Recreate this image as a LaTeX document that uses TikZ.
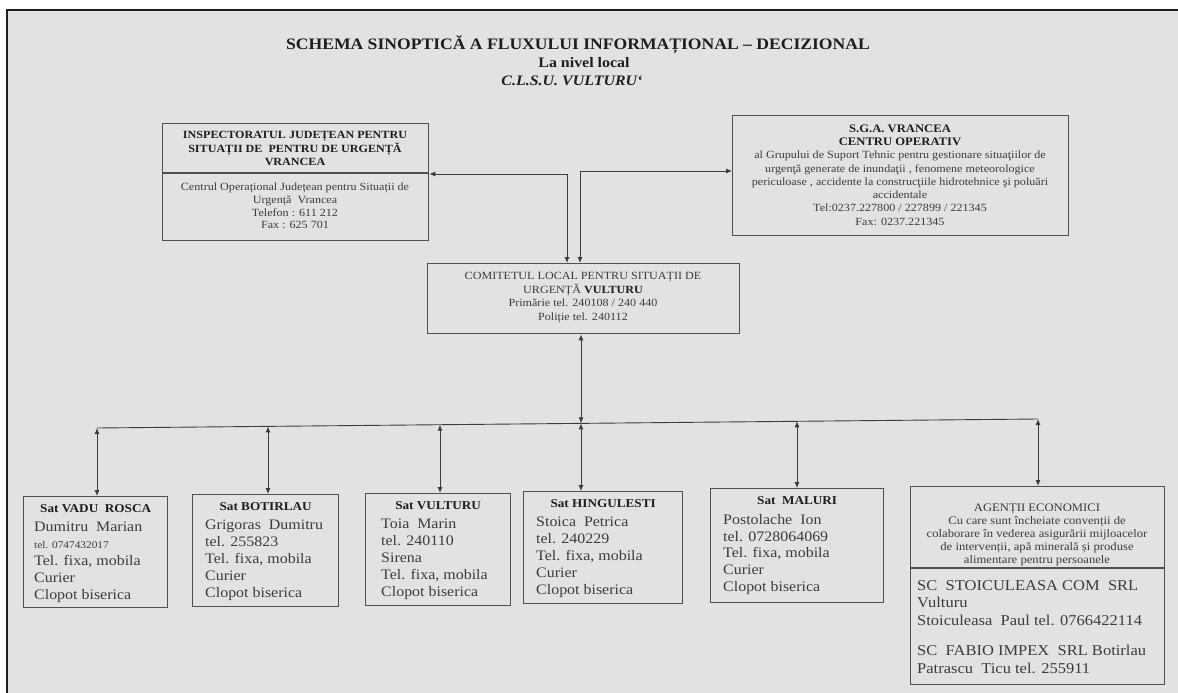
\documentclass[tikz,border=0pt]{standalone}
\usepackage{fontspec}
\setmainfont[FakeStretch=1.1]{Liberation Serif}
\usetikzlibrary{arrows.meta}
\definecolor{bg}{RGB}{226,226,226}
\definecolor{ink}{RGB}{30,30,30}
\definecolor{soft}{RGB}{60,60,60}
\definecolor{edge}{RGB}{80,80,80}
\begin{document}
\begin{tikzpicture}[x=1pt,y=-1pt,
  boxln/.style={draw=edge, line width=1.3pt},
  bx/.style={boxln, inner sep=0pt, anchor=north west},
  conn/.style={draw=soft, line width=0.9pt},
  darw/.style={{Latex[length=6pt,width=5pt]}-{Latex[length=6pt,width=5pt]}},
  txt/.style={inner sep=0pt, text=soft},
  ttl/.style={inner sep=0pt, text=ink, font=\bfseries\fontsize{16}{18}\selectfont},
  vtitle/.style={txt, anchor=north, text=ink, font=\bfseries\fontsize{12}{14}\selectfont},
  vbody/.style={txt, anchor=north west, align=left, font=\fontsize{14.5}{16.8}\selectfont},
]
\useasboundingbox (0,0) rectangle (1178,693);
\fill[white] (0,0) rectangle (1178,693);
\fill[bg] (7,10) rectangle (1178,693);
\draw[line width=2pt, ink] (7,693) -- (7,10) -- (1178,10);

% titles
\node[ttl] (t1) at (578,45) {SCHEMA SINOPTICĂ A FLUXULUI INFORMAȚIONAL – DECIZIONAL};
\node[ttl, font=\bfseries\fontsize{14.5}{16}\selectfont] (t2) at (584,63) {La nivel local};
\node[ttl, font=\bfseries\itshape\fontsize{14.5}{16}\selectfont] (t3) at (572,81) {C.L.S.U. VULTURU{\char"0060}};

% ISJ box
\node[bx, minimum width=266pt, minimum height=117pt] (isj) at (162,123) {};
\draw[boxln] (162,173) -- (428,173);
\node[txt, text=ink, align=center, font=\bfseries\fontsize{11}{13.5}\selectfont] (isjh) at (295,148.5)
  {INSPECTORATUL JUDEȚEAN PENTRU\\SITUAȚII DE\ \ PENTRU DE URGENȚĂ\\VRANCEA};
\node[txt, align=center, font=\fontsize{11}{12.8}\selectfont] (isjb) at (295,206)
  {Centrul Operațional Județean pentru Situații de\\Urgență\ \ Vrancea\\Telefon : 611 212\\Fax : 625 701};

% SGA box
\node[bx, minimum width=336pt, minimum height=120pt] (sga) at (732,115) {};
\node[txt, align=center, font=\fontsize{11}{13.3}\selectfont] (sgat) at (900,175)
  {\textcolor{ink}{\bfseries\fontsize{11.5}{13.3}\selectfont S.G.A. VRANCEA}\\
   \textcolor{ink}{\bfseries\fontsize{11.5}{13.3}\selectfont CENTRU OPERATIV}\\
   al Grupului de Suport Tehnic pentru gestionare situaţiilor de\\
   urgenţă generate de inundaţii , fenomene meteorologice\\
   periculoase , accidente la construcţiile hidrotehnice şi poluări\\
   accidentale\\
   Tel:0237.227800 / 227899 / 221345\\
   Fax: 0237.221345};

% CLSU box
\node[bx, minimum width=312pt, minimum height=70pt] (clsu) at (427,263) {};
\node[txt, align=center, font=\fontsize{11}{13.5}\selectfont] (clsut) at (583,297.5)
  {COMITETUL LOCAL PENTRU SITUAȚII DE\\URGENȚĂ \textcolor{ink}{\bfseries VULTURU}\\Primărie tel. 240108 / 240 440\\Poliție tel. 240112};

% top connectors
\coordinate (jl) at (567,174);
\coordinate (jr) at (580,171);
\draw[conn, darw] (isj.east |- jl) -- (jl) -- (jl |- clsu.north);
\draw[conn, darw] (jr |- clsu.north) -- (jr) -- (sga.west |- jr);

% bottom boxes
\node[bx, minimum width=144pt, minimum height=111pt] (v1) at (23,496) {};
\node[bx, minimum width=146pt, minimum height=112pt] (v2) at (192,494) {};
\node[bx, minimum width=145pt, minimum height=112pt] (v3) at (365,493) {};
\node[bx, minimum width=159pt, minimum height=112pt] (v4) at (523,491) {};
\node[bx, minimum width=173pt, minimum height=114pt] (v5) at (710,488) {};
\node[bx, minimum width=254pt, minimum height=198pt] (v6) at (910,486) {};
\draw[boxln] (910,568) -- (1164,568);

\node[vtitle] (v1t) at ([yshift=-8pt]v1.north) {Sat VADU\ \ ROSCA};
\node[vbody] (v1b) at (34,522) {Dumitru\ \ Marian\\{\fontsize{10.3}{16.8}\selectfont tel. 0747432017}\\Tel. fixa, mobila\\Curier\\Clopot biserica};
\node[vtitle] (v2t) at ([yshift=-8pt]v2.north) {Sat BOTIRLAU};
\node[vbody] (v2b) at (205,520) {Grigoras\ \ Dumitru\\tel. 255823\\Tel. fixa, mobila\\Curier\\Clopot biserica};
\node[vtitle] (v3t) at ([yshift=-8pt]v3.north) {Sat VULTURU};
\node[vbody] (v3b) at (381,519) {Toia\ \ Marin\\tel. 240110\\Sirena\\Tel. fixa, mobila\\Clopot biserica};
\node[vtitle] (v4t) at ([yshift=-8pt]v4.north) {Sat HINGULESTI};
\node[vbody] (v4b) at (536,517) {Stoica\ \ Petrica\\tel. 240229\\Tel. fixa, mobila\\Curier\\Clopot biserica};
\node[vtitle] (v5t) at ([yshift=-8pt]v5.north) {Sat\ \ MALURI};
\node[vbody] (v5b) at (723,514) {Postolache\ \ Ion\\tel. 0728064069\\Tel. fixa, mobila\\Curier\\Clopot biserica};

\node[txt, align=center, font=\fontsize{11.5}{12.8}\selectfont] (v6h) at (1037,535)
  {AGENȚII ECONOMICI\\Cu care sunt încheiate convenții de\\colaborare în vederea asigurării mijloacelor\\de intervenții, apă minerală și produse\\alimentare pentru persoanele};
\node[txt, anchor=north west, align=left, font=\fontsize{15}{17.5}\selectfont] (v6b) at (917,580)
  {SC\ \ STOICULEASA COM\ \ SRL\\Vulturu\\Stoiculeasa\ \ Paul tel. 0766422114\\[13pt]SC\ \ FABIO IMPEX\ \ SRL Botirlau\\Patrascu\ \ Ticu tel. 255911};

% bus
\coordinate (b1) at (97,428);
\coordinate (b2) at (268,426.4);
\coordinate (b3) at (440,424.7);
\coordinate (b4) at (581,423.4);
\coordinate (b5) at (797,421.3);
\coordinate (b6) at (1038,419);
\draw[conn] (b1) -- (b6);
\draw[conn, darw] (b4 |- clsu.south) -- (b4);
\draw[conn, darw] (b1) -- (b1 |- v1.north);
\draw[conn, darw] (b2) -- (b2 |- v2.north);
\draw[conn, darw] (b3) -- (b3 |- v3.north);
\draw[conn, darw] (b4) -- (b4 |- v4.north);
\draw[conn, darw] (b5) -- (b5 |- v5.north);
\draw[conn, darw] (b6) -- (b6 |- v6.north);
\end{tikzpicture}
\end{document}
